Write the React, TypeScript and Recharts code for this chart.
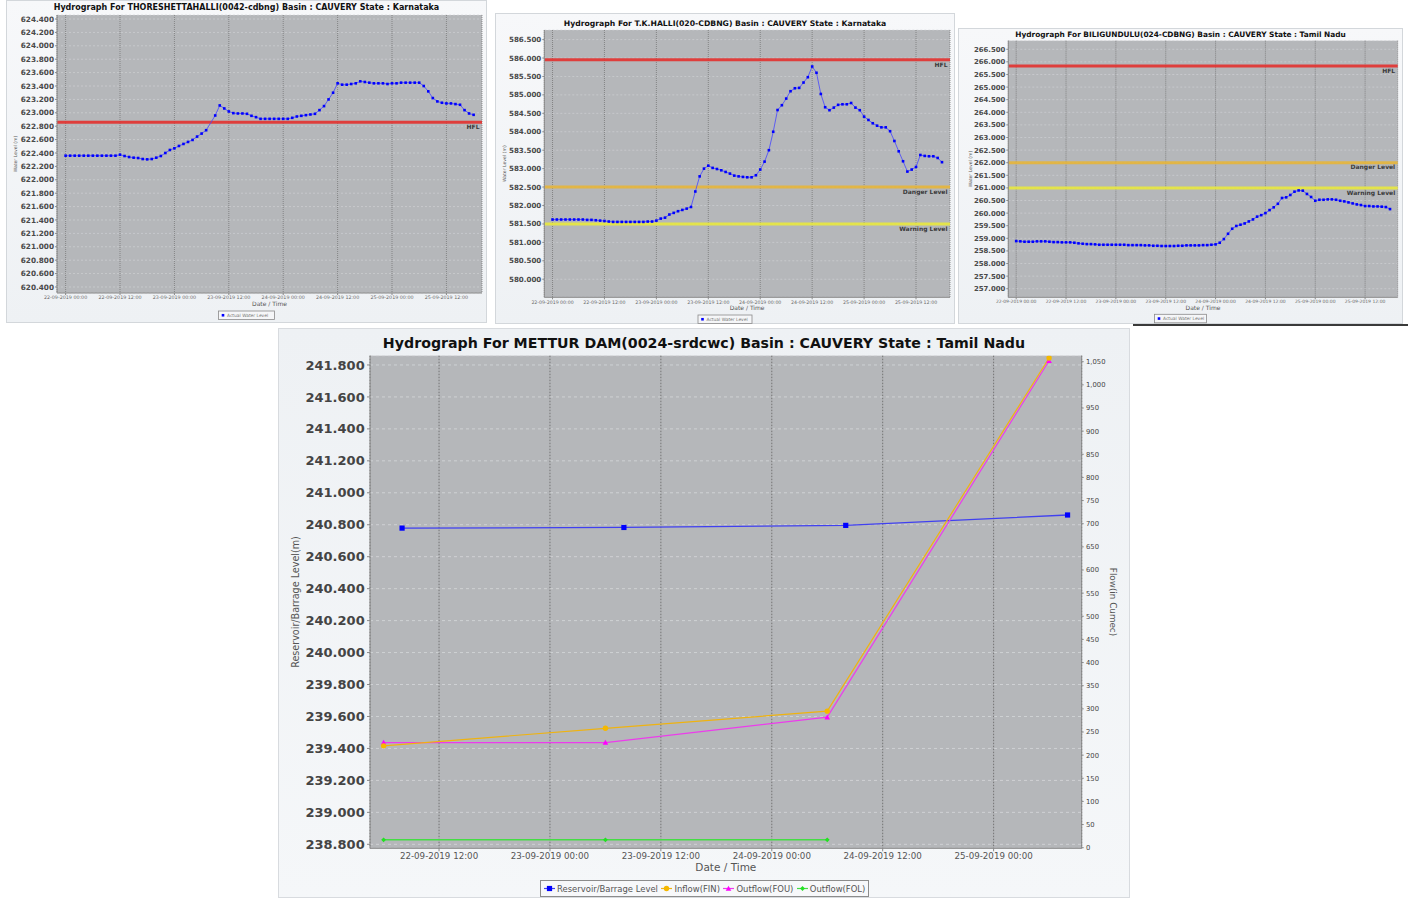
import React from "react";
import { CartesianGrid, Line, LineChart, ReferenceLine, XAxis, YAxis } from "recharts";

const FONT = "'DejaVu Sans', sans-serif";
const PLOT_BG = "#b5b7ba";
const HFL_COLOR = "#e3312f";
const DANGER_COLOR = "#e6b53a";
const WARNING_COLOR = "#e8e83e";

// hourly readings from 22-09-2019 00:00 (index = hour), null = no reading
const THORE_LEVEL = [
  622.36, 622.36, 622.36, 622.36, 622.36, 622.36, 622.36, 622.36, 622.36, 622.36,
  622.36, 622.36, 622.375, 622.355, 622.34, 622.33, 622.325, 622.31, 622.305, 622.31,
  622.33, 622.355, 622.4, 622.445, 622.47, 622.505, 622.535, 622.565, 622.595, 622.645,
  622.69, 622.74, null, 622.96, 623.11, 623.065, 623.02, 622.995, 622.99, 622.99,
  622.985, 622.955, 622.935, 622.91, 622.91, 622.91, 622.91, 622.91, 622.91, 622.91,
  622.925, 622.945, 622.955, 622.965, 622.975, 622.985, 623.04, 623.1, 623.2, 623.3,
  623.44, 623.42, 623.42, 623.43, 623.44, 623.47, 623.46, 623.45, 623.44, 623.44,
  623.44, 623.43, 623.44, 623.44, 623.45, 623.45, 623.45, 623.45, 623.45, 623.4,
  623.32, 623.22, 623.17, 623.15, 623.14, 623.14, 623.13, 623.12, 623.04, 622.99,
  622.97,
];
const TKHALLI_LEVEL = [
  581.62, 581.62, 581.62, 581.62, 581.62, 581.62, 581.62, 581.62, 581.61, 581.61,
  581.6, 581.59, 581.58, 581.565, 581.555, 581.555, 581.555, 581.555, 581.555, 581.555,
  581.555, 581.555, 581.565, 581.565, 581.59, 581.645, 581.67, 581.755, 581.8, 581.845,
  581.88, 581.915, 581.96, 582.38, 582.79, 583.0, 583.08, 583.02, 582.99, 582.955,
  582.91, 582.865, 582.81, 582.79, 582.775, 582.765, 582.765, 582.82, 582.975, 583.19,
  583.5, 584.0, 584.59, 584.72, 584.9, 585.1, 585.18, 585.19, 585.335, 585.48,
  585.77, 585.6, 585.025, 584.665, 584.585, 584.655, 584.73, 584.745, 584.745, 584.78,
  584.655, 584.585, 584.41, 584.32, 584.23, 584.165, 584.12, 584.12, 584.015, 583.75,
  583.47, 583.2, 582.92, 582.975, 583.045, 583.37, 583.345, 583.335, 583.335, 583.29,
  583.175,
];
const BILI_LEVEL = [
  258.89, 258.88, 258.865, 258.865, 258.865, 258.88, 258.88, 258.88, 258.865, 258.85,
  258.85, 258.84, 258.84, 258.84, 258.825, 258.8, 258.785, 258.77, 258.77, 258.76,
  258.745, 258.745, 258.745, 258.745, 258.745, 258.745, 258.745, 258.73, 258.73, 258.73,
  258.73, 258.72, 258.72, 258.705, 258.705, 258.695, 258.695, 258.695, 258.695, 258.705,
  258.705, 258.72, 258.72, 258.72, 258.72, 258.73, 258.73, 258.745, 258.76, 258.825,
  258.97, 259.18, 259.38, 259.49, 259.54, 259.59, 259.67, 259.75, 259.86, 259.92,
  260.0, 260.12, 260.23, 260.37, 260.6, 260.625, 260.72, 260.85, 260.9, 260.89,
  260.76, 260.64, 260.49, 260.53, 260.53, 260.545, 260.545, 260.53, 260.49, 260.465,
  260.425, 260.385, 260.345, 260.32, 260.28, 260.28, 260.265, 260.265, 260.255, 260.24,
  260.16,
];

const TOP_TIME_TICKS = [0, 12, 24, 36, 48, 60, 72, 84];
const TOP_TIME_LABELS = [
  "22-09-2019 00:00", "22-09-2019 12:00", "23-09-2019 00:00", "23-09-2019 12:00",
  "24-09-2019 00:00", "24-09-2019 12:00", "25-09-2019 00:00", "25-09-2019 12:00",
];
const TOP_TIME_DOMAIN: [number, number] = [-1.9, 91.85];

const THORE_TICKS = [
  620.4, 620.6, 620.8, 621.0, 621.2, 621.4, 621.6, 621.8, 622.0, 622.2, 622.4,
  622.6, 622.8, 623.0, 623.2, 623.4, 623.6, 623.8, 624.0, 624.2, 624.4,
];
const TKHALLI_TICKS = [
  580.0, 580.5, 581.0, 581.5, 582.0, 582.5, 583.0, 583.5, 584.0, 584.5, 585.0, 585.5, 586.0, 586.5,
];
const BILI_TICKS = [
  257.0, 257.5, 258.0, 258.5, 259.0, 259.5, 260.0, 260.5, 261.0, 261.5,
  262.0, 262.5, 263.0, 263.5, 264.0, 264.5, 265.0, 265.5, 266.0, 266.5,
];

const THORE_HFL = 622.86;
const TKHALLI_HFL = 585.95;
const TKHALLI_DANGER = 582.5;
const TKHALLI_WARNING = 581.5;
const BILI_HFL = 265.84;
const BILI_DANGER = 262.0;
const BILI_WARNING = 261.0;

// Mettur dam: level read at 08:00, flows at 06:00 (hours after 22-09-2019 00:00)
const METTUR_LEVEL_HOURS = [8, 32, 56, 80];
const METTUR_LEVEL = [240.779, 240.783, 240.796, 240.861];
const METTUR_FLOW_HOURS = [6, 30, 54, 78];
const METTUR_INFLOW = [220, 258, 295, 1058];
const METTUR_OUTFLOW_FOU = [227, 227, 282, 1052];
const METTUR_OUTFLOW_FOL = [17, 17, 17, null];
const METTUR_TIME_TICKS = [12, 24, 36, 48, 60, 72];
const METTUR_TIME_LABELS = [
  "22-09-2019 12:00", "23-09-2019 00:00", "23-09-2019 12:00",
  "24-09-2019 00:00", "24-09-2019 12:00", "25-09-2019 00:00",
];
const METTUR_LEVEL_TICKS = [
  238.8, 239.0, 239.2, 239.4, 239.6, 239.8, 240.0, 240.2,
  240.4, 240.6, 240.8, 241.0, 241.2, 241.4, 241.6, 241.8,
];
const METTUR_FLOW_TICKS = [
  0, 50, 100, 150, 200, 250, 300, 350, 400, 450, 500,
  550, 600, 650, 700, 750, 800, 850, 900, 950, 1000, 1050,
];
const METTUR_SERIES = ["Reservoir/Barrage Level", "Inflow(FIN)", "Outflow(FOU)", "Outflow(FOL)"];
const METTUR_COLORS = ["#0000ff", "#f5b800", "#ff00ff", "#22e022"];
const METTUR_LINE_COLORS = ["#4040f0", "#efb310", "#ec3cec", "#44dd44"];

type Shape = "square" | "circle" | "triangle" | "diamond";

function marker(shape: Shape, cx: number, cy: number, s: number, fill: string, key?: any) {
  if (shape === "circle") return <circle key={key} cx={cx} cy={cy} r={s} fill={fill} />;
  if (shape === "triangle")
    return <path key={key} d={`M${cx},${cy - s}L${cx + s},${cy + s * 0.8}L${cx - s},${cy + s * 0.8}Z`} fill={fill} />;
  if (shape === "diamond")
    return <path key={key} d={`M${cx},${cy - s}L${cx + s},${cy}L${cx},${cy + s}L${cx - s},${cy}Z`} fill={fill} />;
  return <rect key={key} x={cx - s} y={cy - s} width={s * 2} height={s * 2} fill={fill} />;
}

const dotOf = (shape: Shape, s: number, fill: string) => (p: any) => {
  if (p.cx == null || p.cy == null || p.value == null) return <g key={p.index} />;
  return marker(shape, p.cx, p.cy, s, fill, p.index);
};

const fmtTop = (v: number) => TOP_TIME_LABELS[TOP_TIME_TICKS.indexOf(v)] ?? "";
const fmtMettur = (v: number) => METTUR_TIME_LABELS[METTUR_TIME_TICKS.indexOf(v)] ?? "";

type Level = { value: number; color: string; label: string };

function TopHydrograph(props: {
  title: string;
  levels: (number | null)[];
  yDomain: [number, number];
  yTicks: number[];
  refs: Level[];
  left: number;
  top: number;
  width: number;
  height: number;
  margin: { top: number; right: number; bottom: number; left: number };
  yAxisWidth: number;
  xAxisHeight: number;
  titleY: number;
  titleSize: number;
  yTickFont: number;
  xTickFont: number;
  yLabelOffset: number;
  dateOffset: number;
  legendY: number;
  legendW: number;
}) {
  const p = props;
  const rows = p.levels.map((v, i) => ({ hour: i, level: v }));
  return (
    <div
      style={{
        position: "absolute",
        left: p.left,
        top: p.top,
        width: p.width,
        height: p.height,
        background: "linear-gradient(180deg,#f7f8fa,#eef1f4)",
        boxShadow: "inset 0 0 0 1px #d3d7db",
      }}
    >
      <LineChart width={p.width} height={p.height} data={rows} margin={p.margin}>
        <CartesianGrid vertical={false} fill={PLOT_BG} stroke="#d3d5d8" strokeDasharray="2 2" strokeWidth={0.6} />
        <CartesianGrid horizontal={false} stroke="#6e6e6e" strokeDasharray="1 1" strokeWidth={0.7} />
        <XAxis
          type="number"
          dataKey="hour"
          domain={TOP_TIME_DOMAIN}
          allowDataOverflow
          ticks={TOP_TIME_TICKS}
          interval={0}
          tickFormatter={fmtTop}
          height={p.xAxisHeight}
          tickSize={2}
          tickMargin={1}
          tick={{ fontSize: p.xTickFont, fill: "#6a6a6a" }}
          axisLine={{ stroke: "#8a8a8a" }}
          tickLine={{ stroke: "#8a8a8a" }}
          label={{ value: "Date / Time", position: "insideTop", offset: p.dateOffset, fontSize: 6, fill: "#555" }}
        />
        <YAxis
          type="number"
          domain={p.yDomain}
          allowDataOverflow
          ticks={p.yTicks}
          interval={0}
          width={p.yAxisWidth}
          tickFormatter={(v: number) => v.toFixed(3)}
          tickSize={2}
          tickMargin={1}
          tick={{ fontSize: p.yTickFont, fontWeight: "bold", fill: "#4a4a4a" }}
          axisLine={{ stroke: "#8a8a8a" }}
          tickLine={{ stroke: "#8a8a8a" }}
          label={{
            value: "Water Level (m)",
            angle: -90,
            position: "insideLeft",
            offset: p.yLabelOffset,
            fontSize: 4.6,
            fill: "#555",
            style: { textAnchor: "middle" },
          }}
        />
        {p.refs.map((r) => (
          <ReferenceLine
            key={r.label}
            y={r.value}
            stroke={r.color}
            strokeWidth={3}
            strokeOpacity={0.9}
            label={{
              value: r.label,
              position: "insideTopRight",
              offset: 2.5,
              fontSize: 6,
              fontWeight: "bold",
              fill: "#3a3a3a",
            }}
          />
        ))}
        <Line
          type="linear"
          dataKey="level"
          stroke="#4646ff"
          strokeWidth={0.8}
          connectNulls
          dot={dotOf("square", 1.3, "#0000ff")}
          activeDot={false}
          isAnimationActive={false}
        />
      </LineChart>
      <svg width={p.width} height={p.height} style={{ position: "absolute", left: 0, top: 0, pointerEvents: "none" }}>
        <text
          x={p.width / 2}
          y={p.titleY}
          textAnchor="middle"
          dominantBaseline="central"
          fontWeight="bold"
          fontSize={p.titleSize}
          fill="#111"
        >
          {p.title}
        </text>
        <g transform={`translate(${p.width / 2 - p.legendW / 2},${p.legendY})`}>
          <rect x={0} y={0} width={p.legendW} height={8.5} fill="#f5f6f8" stroke="#8a8a8a" strokeWidth={0.8} />
          {marker("square", 4.5, 4.25, 1.3, "#0000ff")}
          <text x={8.5} y={4.4} dominantBaseline="central" fontSize={4.4} fill="#777">
            Actual Water Level
          </text>
        </g>
      </svg>
    </div>
  );
}

function MetturChart() {
  const flowRows = METTUR_FLOW_HOURS.map((hour, i) => ({
    hour,
    inflow: METTUR_INFLOW[i],
    fou: METTUR_OUTFLOW_FOU[i],
    fol: METTUR_OUTFLOW_FOL[i],
  }));
  const levelRows = METTUR_LEVEL_HOURS.map((hour, i) => ({ hour, level: METTUR_LEVEL[i] }));
  const rows: any[] = [...flowRows, ...levelRows].sort((a, b) => a.hour - b.hour);
  const shapes: Shape[] = ["square", "circle", "triangle", "diamond"];
  const sizes = [2.6, 2.7, 2.8, 2.4];

  return (
    <div
      style={{
        position: "absolute",
        left: 278,
        top: 328,
        width: 852,
        height: 570,
        background: "linear-gradient(180deg,#eef1f4,#f5f7f9)",
        boxShadow: "inset 0 0 0 1px #d8dbdf",
      }}
    >
      <LineChart width={852} height={570} data={rows} margin={{ top: 27.7, right: 0, bottom: 0, left: 0 }}>
        <CartesianGrid vertical={false} fill={PLOT_BG} stroke="#d6d8db" strokeDasharray="3 3" strokeWidth={0.8} />
        <CartesianGrid horizontal={false} stroke="#6c6c6c" strokeDasharray="1.5 1.5" strokeWidth={0.9} />
        <XAxis
          type="number"
          dataKey="hour"
          domain={[4.53, 81.53]}
          allowDataOverflow
          ticks={METTUR_TIME_TICKS}
          interval={0}
          tickFormatter={fmtMettur}
          height={49.7}
          tickSize={3}
          tickMargin={1.5}
          tick={{ fontSize: 8.7, fill: "#555" }}
          axisLine={{ stroke: "#888" }}
          tickLine={{ stroke: "#888" }}
          label={{ value: "Date / Time", position: "insideTop", offset: 15.5, fontSize: 10.5, fill: "#555" }}
        />
        <YAxis
          type="number"
          domain={[238.775, 241.858]}
          allowDataOverflow
          ticks={METTUR_LEVEL_TICKS}
          interval={0}
          width={92}
          tickFormatter={(v: number) => v.toFixed(3)}
          tickSize={3}
          tickMargin={2.3}
          tick={{ fontSize: 13, fontWeight: "bold", fill: "#444" }}
          axisLine={{ stroke: "#888" }}
          tickLine={{ stroke: "#888" }}
          label={{
            value: "Reservoir/Barrage Level(m)",
            angle: -90,
            position: "insideLeft",
            offset: 18,
            fontSize: 9.6,
            fill: "#555",
            style: { textAnchor: "middle" },
          }}
        />
        <YAxis
          yAxisId="flow"
          orientation="right"
          type="number"
          domain={[-1.3, 1063]}
          allowDataOverflow
          ticks={METTUR_FLOW_TICKS}
          interval={0}
          width={48.3}
          tickFormatter={(v: number) => v.toLocaleString("en-US")}
          tickSize={2}
          tickMargin={2.3}
          tick={{ fontSize: 6.8, fill: "#444" }}
          axisLine={{ stroke: "#888" }}
          tickLine={{ stroke: "#888" }}
          label={{
            value: "Flow(in Cumec)",
            angle: 90,
            position: "insideRight",
            offset: 17,
            fontSize: 8.8,
            fill: "#555",
            style: { textAnchor: "middle" },
          }}
        />
        <Line
          type="linear"
          dataKey="level"
          stroke={METTUR_LINE_COLORS[0]}
          strokeWidth={1.3}
          connectNulls
          dot={dotOf("square", 2.6, METTUR_COLORS[0])}
          activeDot={false}
          isAnimationActive={false}
        />
        <Line
          yAxisId="flow"
          type="linear"
          dataKey="fol"
          stroke={METTUR_LINE_COLORS[3]}
          strokeWidth={1.5}
          connectNulls
          dot={dotOf("diamond", 2.4, METTUR_COLORS[3])}
          activeDot={false}
          isAnimationActive={false}
        />
        <Line
          yAxisId="flow"
          type="linear"
          dataKey="fou"
          stroke={METTUR_LINE_COLORS[2]}
          strokeWidth={1.2}
          connectNulls
          dot={dotOf("triangle", 2.8, METTUR_COLORS[2])}
          activeDot={false}
          isAnimationActive={false}
        />
        <Line
          yAxisId="flow"
          type="linear"
          dataKey="inflow"
          stroke={METTUR_LINE_COLORS[1]}
          strokeWidth={1.2}
          connectNulls
          dot={dotOf("circle", 2.7, METTUR_COLORS[1])}
          activeDot={false}
          isAnimationActive={false}
        />
      </LineChart>
      <div
        style={{
          position: "absolute",
          left: 0,
          top: 6,
          width: 852,
          textAlign: "center",
          fontWeight: "bold",
          fontSize: 14.2,
          lineHeight: "18px",
          color: "#111",
        }}
      >
        Hydrograph For METTUR DAM(0024-srdcwc) Basin : CAUVERY State : Tamil Nadu
      </div>
      <div
        style={{
          position: "absolute",
          left: 262,
          top: 552,
          height: 15,
          display: "flex",
          alignItems: "center",
          padding: "0 3px",
          border: "1px solid #8c8c8c",
          background: "#f7f8fa",
          fontSize: 8.45,
          color: "#555",
          whiteSpace: "nowrap",
        }}
      >
        {METTUR_SERIES.map((name, i) => (
          <span key={name} style={{ display: "flex", alignItems: "center", marginRight: i < 3 ? 3.5 : 0 }}>
            <svg width={11} height={9} style={{ marginRight: 2 }}>
              <line x1={0} y1={4.5} x2={11} y2={4.5} stroke={METTUR_LINE_COLORS[i]} strokeWidth={1.2} />
              {marker(shapes[i], 5.5, 4.5, sizes[i], METTUR_COLORS[i])}
            </svg>
            {name}
          </span>
        ))}
      </div>
    </div>
  );
}

export default function App() {
  return (
    <div
      style={{
        position: "absolute",
        left: 0,
        top: 0,
        width: 1411,
        height: 898,
        background: "#ffffff",
        overflow: "hidden",
        fontFamily: FONT,
      }}
    >
      <TopHydrograph
        title="Hydrograph For THORESHETTAHALLI(0042-cdbng) Basin : CAUVERY State : Karnataka"
        levels={THORE_LEVEL}
        yDomain={[620.31, 624.46]}
        yTicks={THORE_TICKS}
        refs={[{ value: THORE_HFL, color: HFL_COLOR, label: "HFL" }]}
        left={6}
        top={0}
        width={481}
        height={323}
        margin={{ top: 15, right: 5, bottom: 0, left: 6 }}
        yAxisWidth={45}
        xAxisHeight={30}
        titleY={7}
        titleSize={8}
        yTickFont={7.3}
        xTickFont={4.8}
        yLabelOffset={3.7}
        dateOffset={9}
        legendY={311}
        legendW={56}
      />
      <TopHydrograph
        title="Hydrograph For T.K.HALLI(020-CDBNG) Basin : CAUVERY State : Karnataka"
        levels={TKHALLI_LEVEL}
        yDomain={[579.51, 586.76]}
        yTicks={TKHALLI_TICKS}
        refs={[
          { value: TKHALLI_HFL, color: HFL_COLOR, label: "HFL" },
          { value: TKHALLI_DANGER, color: DANGER_COLOR, label: "Danger Level" },
          { value: TKHALLI_WARNING, color: WARNING_COLOR, label: "Warning Level" },
        ]}
        left={495}
        top={13}
        width={460}
        height={311}
        margin={{ top: 17, right: 5, bottom: 0, left: 5 }}
        yAxisWidth={44.3}
        xAxisHeight={26.7}
        titleY={10.3}
        titleSize={7.7}
        yTickFont={7.1}
        xTickFont={4.7}
        yLabelOffset={4}
        dateOffset={8}
        legendY={302}
        legendW={54}
      />
      <TopHydrograph
        title="Hydrograph For BILIGUNDULU(024-CDBNG) Basin : CAUVERY State : Tamil Nadu"
        levels={BILI_LEVEL}
        yDomain={[256.66, 266.84]}
        yTicks={BILI_TICKS}
        refs={[
          { value: BILI_HFL, color: HFL_COLOR, label: "HFL" },
          { value: BILI_DANGER, color: DANGER_COLOR, label: "Danger Level" },
          { value: BILI_WARNING, color: WARNING_COLOR, label: "Warning Level" },
        ]}
        left={958}
        top={28}
        width={445}
        height={296}
        margin={{ top: 12.7, right: 5.3, bottom: 0, left: 5 }}
        yAxisWidth={45.3}
        xAxisHeight={26.7}
        titleY={6.3}
        titleSize={7.4}
        yTickFont={6.9}
        xTickFont={4.5}
        yLabelOffset={7}
        dateOffset={8}
        legendY={286.3}
        legendW={52}
      />
      <div style={{ position: "absolute", left: 1133, top: 324, width: 275, height: 2, background: "#3a3a3a" }} />
      <MetturChart />
    </div>
  );
}
